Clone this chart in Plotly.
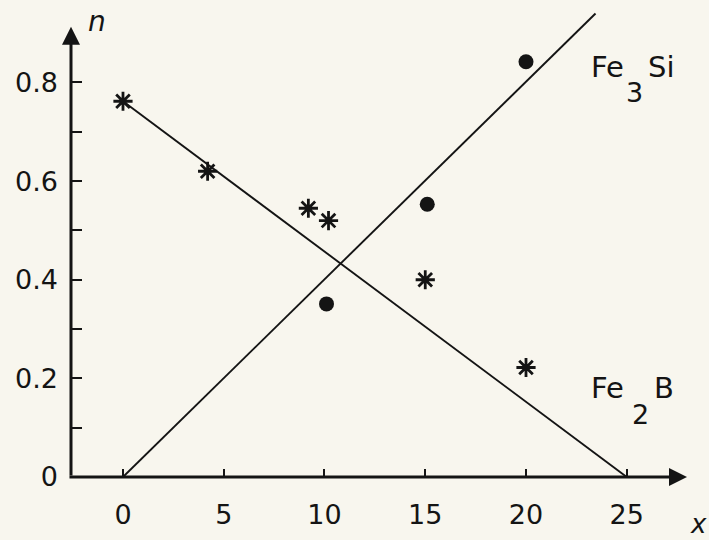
import plotly.graph_objects as go

# Measured fraction n against composition x
fe2b_x = [0, 4.2, 9.2, 10.2, 15.0, 20.0]
fe2b_n = [0.762, 0.62, 0.545, 0.52, 0.40, 0.222]
fe3si_x = [10.1, 15.1, 20.0]
fe3si_n = [0.351, 0.553, 0.842]

# Straight-line trends for the two phases
fe3si_line_x = [0, 23.45]
fe3si_line_n = [0, 0.94]
fe2b_line_x = [0, 25]
fe2b_line_n = [0.762, 0]

# Axis ticks
x_ticks = [0, 5, 10, 15, 20, 25]
x_ticktext = ["0", "5", "10", "15", "20", "25"]
n_ticks = [0, 0.2, 0.4, 0.6, 0.8]
n_ticktext = ["0", "0.2", "0.4", "0.6", "0.8"]
n_minor = [0.1, 0.3, 0.5, 0.7]

X_RANGE = [-2.58, 27.99]
N_RANGE = [0, 0.947]
N_ARROW_TIP = 0.913

INK = "#141414"
PAPER = "#f8f6ee"
FONT = "DejaVu Sans"

fig = go.Figure()

fig.add_trace(go.Scatter(x=fe3si_line_x, y=fe3si_line_n, mode="lines",
                         line=dict(color=INK, width=1.9), hoverinfo="skip"))
fig.add_trace(go.Scatter(x=fe2b_line_x, y=fe2b_line_n, mode="lines",
                         line=dict(color=INK, width=1.9), hoverinfo="skip"))
fig.add_trace(go.Scatter(x=fe3si_x, y=fe3si_n, mode="markers", name="Fe3Si",
                         marker=dict(symbol="circle", size=15, color=INK),
                         cliponaxis=False))
fig.add_trace(go.Scatter(x=fe2b_x, y=fe2b_n, mode="markers", name="Fe2B",
                         marker=dict(symbol="asterisk-open", size=16, color=INK,
                                     line=dict(color=INK, width=2.8)),
                         cliponaxis=False))

# Axis lines with arrowheads
fig.add_annotation(x=X_RANGE[1], y=0, ax=X_RANGE[0] - 0.15, ay=0,
                   xref="x", yref="y", axref="x", ayref="y", text="",
                   showarrow=True, arrowhead=2, arrowsize=1.2, arrowwidth=3,
                   arrowcolor=INK, standoff=0)
fig.add_annotation(x=X_RANGE[0], y=N_ARROW_TIP, ax=X_RANGE[0], ay=0,
                   xref="x", yref="y", axref="x", ayref="y", text="",
                   showarrow=True, arrowhead=2, arrowsize=1.2, arrowwidth=3,
                   arrowcolor=INK, standoff=0)

def label(text, x, y, size=28):
    fig.add_annotation(x=x, y=y, xref="paper", yref="paper", text=text,
                       showarrow=False, xanchor="center", yanchor="middle",
                       font=dict(family=FONT, size=size, color=INK))

def px_to_paper(px, py):
    left, right, top, bottom = 71, 687, 10, 479
    return (px - left) / (right - left), (bottom - py) / (bottom - top)

# Axis titles
label("<i>n</i>", *px_to_paper(97, 22), size=28)
label("<i>x</i>", *px_to_paper(698, 526), size=26)

# Phase labels
label("Fe", *px_to_paper(607, 67), size=29)
label("3", *px_to_paper(634, 93), size=27)
label("Si", *px_to_paper(661, 67), size=29)
label("Fe", *px_to_paper(607, 390), size=29)
label("2", *px_to_paper(640, 416), size=27)
label("B", *px_to_paper(664, 390), size=29)

fig.update_layout(
    width=709, height=540,
    margin=dict(l=71, r=22, t=10, b=61),
    paper_bgcolor=PAPER, plot_bgcolor=PAPER,
    showlegend=False,
    font=dict(family=FONT, size=26, color=INK),
)
fig.update_xaxes(range=X_RANGE, showgrid=False, zeroline=False, showline=False,
                 tickmode="array", tickvals=x_ticks, ticktext=x_ticktext,
                 ticks="inside", ticklen=8, tickwidth=2, tickcolor=INK,
                 ticklabelstandoff=19, tickfont=dict(size=27))
fig.update_yaxes(range=N_RANGE, showgrid=False, zeroline=False, showline=False,
                 tickmode="array", tickvals=n_ticks, ticktext=n_ticktext,
                 ticks="inside", ticklen=11, tickwidth=2, tickcolor=INK,
                 ticklabelstandoff=12, tickfont=dict(size=27),
                 minor=dict(tickmode="array", tickvals=n_minor, ticks="inside",
                            ticklen=11, tickwidth=2, tickcolor=INK, showgrid=False))

fig.write_html("out.html")
